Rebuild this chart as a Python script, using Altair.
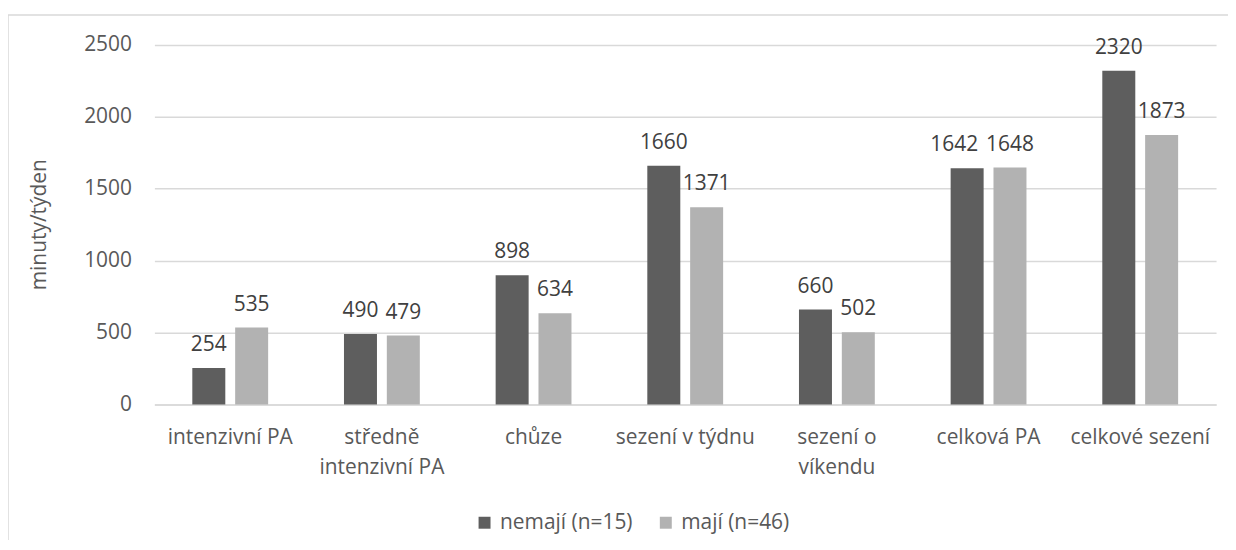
import altair as alt
import pandas as pd

categories = ["intenzivní PA", "středně intenzivní PA", "chůze", "sezení v týdnu",
              "sezení o víkendu", "celková PA", "celkové sezení"]
series = ["nemají (n=15)", "mají (n=46)"]
nemaji = [254, 490, 898, 1660, 660, 1642, 2320]
maji = [535, 479, 634, 1371, 502, 1648, 1873]
colors = ["#5e5e5e", "#b2b2b2"]
y_ticks = [0, 500, 1000, 1500, 2000, 2500]

rows = []
for c, a, b in zip(categories, nemaji, maji):
    rows.append({"kategorie": c, "skupina": series[0], "hodnota": a})
    rows.append({"kategorie": c, "skupina": series[1], "hodnota": b})
df = pd.DataFrame(rows)

FONT = "Open Sans"
FS = 21
AX = "#595959"
GRID = "#d9d9d9"

label_expr = ("datum.label == 'středně intenzivní PA' ? ['středně', 'intenzivní PA'] : "
              "datum.label == 'sezení o víkendu' ? ['sezení o', 'víkendu'] : datum.label")

x = alt.X("kategorie:N", sort=categories,
          scale=alt.Scale(paddingInner=0.5, paddingOuter=0.25),
          axis=alt.Axis(title=None, labelAngle=0, labelFontSize=FS, labelFont=FONT,
                        labelColor=AX, labelPadding=22, ticks=False, domainColor=GRID,
                        domainWidth=1.5, labelExpr=label_expr, labelLimit=400,
                        labelLineHeight=30, grid=False))
xo = alt.XOffset("skupina:N", sort=series,
                 scale=alt.Scale(domain=series, paddingInner=0.23, paddingOuter=0))
y = alt.Y("hodnota:Q", scale=alt.Scale(domain=[0, 2500], nice=False),
          axis=alt.Axis(values=y_ticks, format="d", title="minuty/týden", titleFontSize=FS,
                        titleFont=FONT, titleFontWeight="normal", titleColor=AX,
                        titleAngle=270, titleX=-115, titleY=180, titleAlign="center",
                        titleBaseline="middle",
                        labelFontSize=FS, labelFont=FONT, labelColor=AX, labelPadding=23,
                        ticks=False, domain=False, grid=True, gridColor=GRID,
                        gridWidth=1.5))
color = alt.Color("skupina:N", sort=series,
                  scale=alt.Scale(domain=series, range=colors),
                  legend=alt.Legend(title=None, orient="none", legendX=321, legendY=469,
                                    direction="horizontal", symbolType="square",
                                    symbolSize=144, symbolStrokeWidth=0,
                                    labelFontSize=FS, labelFont=FONT, labelColor=AX,
                                    columnPadding=22, labelOffset=5))

frame = alt.Chart(alt.Data(values=[{}])).mark_rect(
    filled=False, stroke=GRID, strokeWidth=1.5
).encode(x=alt.value(-147), x2=alt.value(1300), y=alt.value(-30), y2=alt.value(700))

bars = alt.Chart(df).mark_bar().encode(x=x, xOffset=xo, y=y, color=color)

tx = alt.X("kategorie:N", sort=categories)
txo = alt.XOffset("skupina:N", sort=series)
crowded = (alt.datum.kategorie == "celková PA") & (alt.datum.skupina == series[0])

text = alt.Chart(df).transform_filter(~crowded).mark_text(
    dy=-17, baseline="alphabetic", fontSize=FS, font=FONT, color="#404040"
).encode(x=tx, xOffset=txo, y="hodnota:Q", text="hodnota:Q")

text_shift = alt.Chart(df).transform_filter(crowded).mark_text(
    dy=-17, dx=-13, baseline="alphabetic", fontSize=FS, font=FONT, color="#404040"
).encode(x=tx, xOffset=txo, y="hodnota:Q", text="hodnota:Q")

chart = alt.layer(frame, bars, text, text_shift).properties(
    width=1066, height=361,
    autosize=alt.AutoSizeParams(type="none"),
    padding={"left": 147, "top": 36, "right": 12, "bottom": 135},
).configure_view(stroke=None)

chart.save("out.html", embed_options={"renderer": "svg", "actions": False})
